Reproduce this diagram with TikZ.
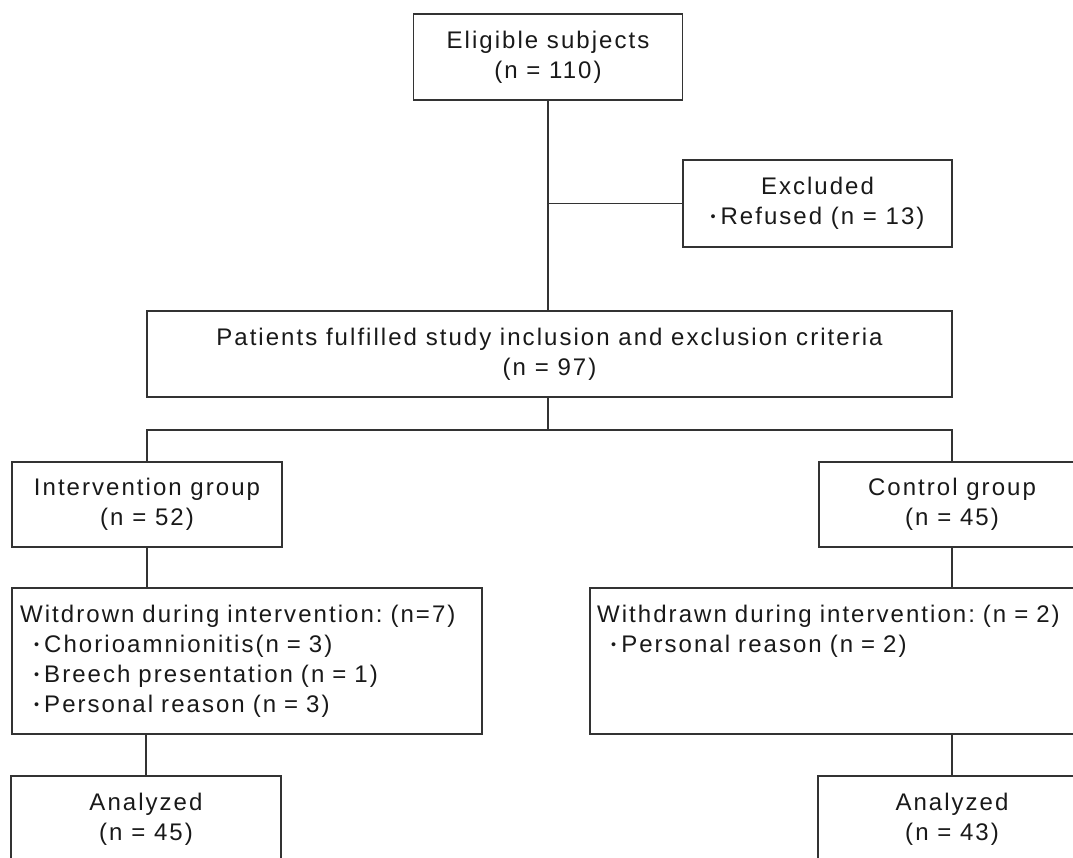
\documentclass[tikz,border=0pt]{standalone}
\usepackage{fontspec}
\setmainfont{Liberation Sans}[LetterSpace=8.5]
\frenchspacing
\newcommand\bul{\raisebox{0.12em}{\scalebox{0.6}{\textbullet}}\kern5pt}
\begin{document}
\begin{tikzpicture}[x=1pt,y=-1pt,
  box/.style={draw=black!80, line width=1.4pt, inner sep=0pt, align=center,
    font=\fontsize{24}{30}\selectfont, text=black!90},
  txt/.style={inner sep=0pt, align=left, text width=480pt,
    font=\fontsize{24}{30}\selectfont, text=black!90},
  link/.style={draw=black!80, line width=1.4pt}]
\useasboundingbox (0,0) rectangle (1073,858);
\clip (0,0) rectangle (1073,858);
\fill[white] (0,0) rectangle (1073,858);
\node[box, minimum width=269pt, minimum height=86pt] (elig) at (548,57) {Eligible subjects\\(n = 110)};
\node[box, minimum width=269pt, minimum height=87pt] (excl) at (817.5,203.5) {Excluded\\\bul Refused (n = 13)};
\node[box, minimum width=805pt, minimum height=86pt] (pat) at (549.5,354) {Patients fulfilled study inclusion and exclusion criteria\\(n = 97)};
\coordinate (split) at (548,430);
\node[box, minimum width=270pt, minimum height=85pt] (int) at (147,504.5) {Intervention group\\(n = 52)};
\node[box, minimum width=266pt, minimum height=85pt] (ctrl) at (952,504.5) {Control group\\(n = 45)};
\node[box, minimum width=470pt, minimum height=146pt] (wl) at (247,661) {};
\node[box, minimum width=500pt, minimum height=146pt] (wr) at (840,661) {};
\node[txt, anchor=base west] (wlt) at (20,622) {Witdrown during intervention: (n=7)\\
  \hspace*{14pt}\bul Chorioamnionitis(n = 3)\\
  \hspace*{14pt}\bul Breech presentation (n = 1)\\
  \hspace*{14pt}\bul Personal reason (n = 3)};
\node[txt, anchor=base west] (wrt) at (597,622) {Withdrawn during intervention: (n = 2)\\
  \hspace*{14pt}\bul Personal reason (n = 2)};
\node[box, minimum width=270pt, minimum height=86pt] (al) at (146,819) {Analyzed\\(n = 45)};
\node[box, minimum width=268pt, minimum height=86pt] (ar) at (952,819) {Analyzed\\(n = 43)};
\draw[link] (elig.south) -- (pat.north -| elig.south);
\draw[link] (excl.west) -- (excl.west -| elig.south);
\draw[link] (pat.south -| split) -- (split);
\draw[link] (int.north) |- (split) -| (ctrl.north);
\draw[link] (int.south) -- (int.south |- wl.north);
\draw[link] (ctrl.south) -- (ctrl.south |- wr.north);
\draw[link] (wl.south -| al.north) -- (al.north);
\draw[link] (wr.south -| ar.north) -- (ar.north);
\end{tikzpicture}
\end{document}
